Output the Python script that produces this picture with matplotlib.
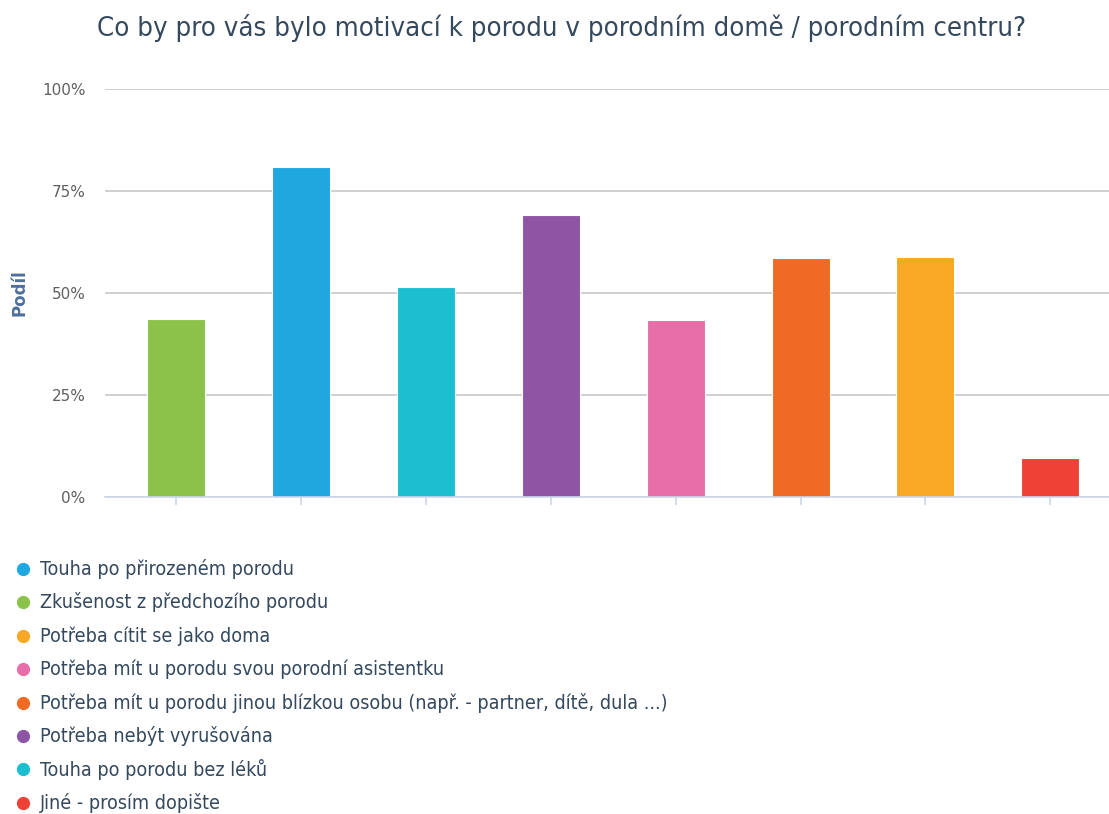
import matplotlib.pyplot as plt
from matplotlib.ticker import FuncFormatter

# category order on the x axis
categories = [
    "Zkušenost z předchozího porodu",
    "Touha po přirozeném porodu",
    "Touha po porodu bez léků",
    "Potřeba nebýt vyrušována",
    "Potřeba mít u porodu svou porodní asistentku",
    "Potřeba mít u porodu jinou blízkou osobu (např. - partner, dítě, dula ...)",
    "Potřeba cítit se jako doma",
    "Jiné - prosím dopište",
]
shares = [43.6, 80.9, 51.5, 69.1, 43.4, 58.6, 58.8, 9.6]
colors = ["#8bc34a", "#1fa8e0", "#1cbfd0", "#8e55a4",
          "#e86ea9", "#f06a24", "#f9a825", "#ef4136"]

# order of entries in the legend
legend_order = [
    "Touha po přirozeném porodu",
    "Zkušenost z předchozího porodu",
    "Potřeba cítit se jako doma",
    "Potřeba mít u porodu svou porodní asistentku",
    "Potřeba mít u porodu jinou blízkou osobu (např. - partner, dítě, dula ...)",
    "Potřeba nebýt vyrušována",
    "Touha po porodu bez léků",
    "Jiné - prosím dopište",
]
yticks = [0, 25, 50, 75, 100]

W, H = 1109, 814
fig = plt.figure(figsize=(W / 100, H / 100), dpi=100)
ax = fig.add_axes([105 / W, 1 - 497 / H, 1 - 105 / W, (497 - 89) / H])

x = list(range(len(categories)))
ax.bar(x, shares, width=0.465, color=colors, edgecolor="white", linewidth=0.8, zorder=3)

ax.set_xlim(-0.57, len(categories) - 0.53)
ax.set_ylim(0, 100)
ax.set_yticks(yticks)
ax.yaxis.set_major_formatter(FuncFormatter(lambda v, _: f"{v:.0f}%"))
ax.set_xticks(x)
ax.set_xticklabels([])
ax.grid(axis="y", color="#c8c8c8", linewidth=1.2, zorder=0)
ax.tick_params(axis="y", length=0, pad=14, labelsize=11, labelcolor="#606060")
ax.tick_params(axis="x", length=6, color="#ccd6eb", width=1.2)
for side in ["top", "right", "left"]:
    ax.spines[side].set_visible(False)
ax.spines["bottom"].set_color("#ccd6eb")
ax.spines["bottom"].set_linewidth(1.2)
ax.spines["bottom"].set_zorder(4)

fig.text(20 / W, 1 - 293 / H, "Podíl", rotation=90, ha="center", va="center",
         fontsize=12, fontweight="bold", color="#4d6f9c")

fig.text(562 / W, 1 - 28 / H,
         "Co by pro vás bylo motivací k porodu v porodním domě / porodním centru?",
         ha="center", va="center", fontsize=19.7, fontstretch="condensed",
         color="#34495e")

# legend drawn as colored dots with labels
color_of = dict(zip(categories, colors))
for i, label in enumerate(legend_order):
    y = 1 - (569 + i * 33.4) / H
    fig.lines.append(plt.Line2D([23 / W], [y], marker="o", markersize=8.5,
                                color=color_of[label], linestyle="none",
                                transform=fig.transFigure))
    fig.text(40 / W, y, label, ha="left", va="center", fontsize=14.15,
             fontstretch="condensed", color="#34495e")

fig.savefig("out.png", dpi=100)
